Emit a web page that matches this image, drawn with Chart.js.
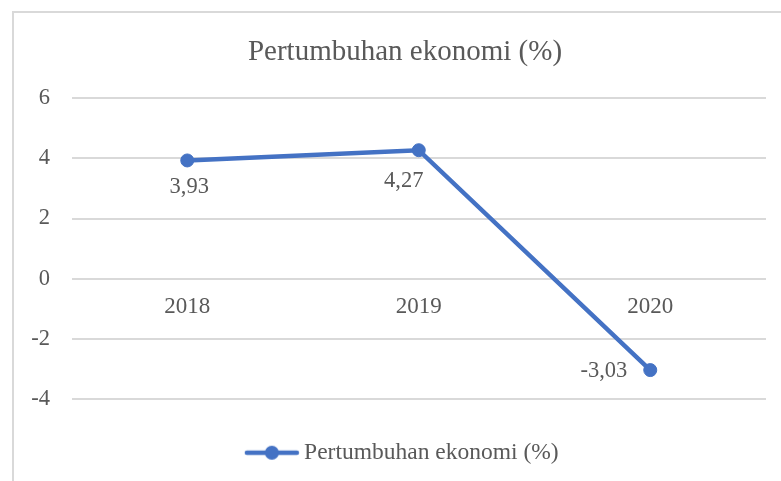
<!DOCTYPE html>
<html>
<head>
<meta charset="utf-8">
<script src="https://cdn.jsdelivr.net/npm/chart.js@4.4.1/dist/chart.umd.min.js"></script>
<style>
  html, body { margin: 0; padding: 0; background: #fff; overflow: hidden; }
  #box {
    position: absolute; left: 12px; top: 11px;
    width: 782px; height: 480px;
    border: 2px solid #d9d9d9;
    background: #fff;
  }
  canvas { display: block; }
</style>
</head>
<body>
<div id="box"><canvas id="myChart" width="782" height="480"></canvas></div>
<script>
var years = ["2018", "2019", "2020"];
var growth = [3.93, 4.27, -3.03];
var growthText = ["3,93", "4,27", "-3,03"];
var seriesName = "Pertumbuhan ekonomi (%)";

var blue = "#4472C4";
var grey = "#595959";
var serif = "'Liberation Serif', 'Times New Roman', serif";

// legend marker: line with a dot in the middle
var marker = document.createElement("canvas");
marker.width = 56;
marker.height = 16;
var mctx = marker.getContext("2d");
mctx.strokeStyle = blue;
mctx.lineWidth = 4.5;
mctx.lineCap = "round";
mctx.beginPath();
mctx.moveTo(3, 8);
mctx.lineTo(53, 8);
mctx.stroke();
mctx.fillStyle = blue;
mctx.beginPath();
mctx.arc(28, 8, 7, 0, Math.PI * 2);
mctx.fill();

// data labels: below, below (nudged left), left
var valueLabels = {
  id: "valueLabels",
  afterDatasetsDraw: function (chart) {
    var ctx = chart.ctx;
    var meta = chart.getDatasetMeta(0);
    ctx.save();
    ctx.font = "22.5px " + serif;
    ctx.fillStyle = grey;
    ctx.textBaseline = "middle";
    meta.data.forEach(function (pt, i) {
      var txt = growthText[i];
      if (i == 2) {
        ctx.textAlign = "right";
        ctx.fillText(txt, pt.x - 23, pt.y + 1);
      } else if (i == 1) {
        ctx.textAlign = "center";
        ctx.fillText(txt, pt.x - 15, pt.y + 31);
      } else {
        ctx.textAlign = "center";
        ctx.fillText(txt, pt.x + 2, pt.y + 27);
      }
    });
    ctx.restore();
  },
};

new Chart("myChart", {
  type: "line",
  data: {
    labels: years,
    datasets: [
      {
        label: seriesName,
        data: growth,
        borderColor: blue,
        backgroundColor: blue,
        borderWidth: 4.5,
        pointRadius: 6.5,
        pointHoverRadius: 6.5,
        pointBorderWidth: 1,
        pointStyle: "circle",
        tension: 0,
      },
    ],
  },
  options: {
    responsive: false,
    animation: false,
    events: [],
    layout: { padding: { left: 0, right: 0, top: 0, bottom: 18.5 } },
    scales: {
      x: {
        position: { y: 0 },
        offset: true,
        grid: { display: false, drawTicks: false },
        border: { display: false },
        ticks: {
          padding: 14,
          maxRotation: 0,
          color: grey,
          font: { family: serif, size: 23 },
        },
      },
      y: {
        min: -4,
        max: 6,
        afterFit: function (scale) {
          scale.width = 57.5;
        },
        grid: { color: "#d9d9d9", lineWidth: 2, drawTicks: false },
        border: { display: false },
        ticks: {
          stepSize: 2,
          padding: 21.5,
          color: grey,
          font: { family: serif, size: 22.5 },
        },
      },
      // empty right-hand axis, only keeps room on the right
      yRight: {
        position: "right",
        grid: { display: false, drawTicks: false },
        border: { display: false },
        ticks: { display: false },
        afterFit: function (scale) {
          scale.width = 30;
        },
      },
    },
    plugins: {
      title: {
        display: true,
        text: seriesName,
        color: grey,
        font: { family: serif, size: 29, weight: "normal" },
        padding: { top: 21.5, bottom: 28.8 },
      },
      legend: {
        position: "bottom",
        labels: {
          usePointStyle: true,
          pointStyleWidth: 41,
          padding: 41.7,
          color: grey,
          font: { family: serif, size: 23.5 },
          generateLabels: function (chart) {
            return [
              {
                text: seriesName,
                pointStyle: marker,
                fillStyle: blue,
                strokeStyle: blue,
                lineWidth: 0,
                fontColor: grey,
                datasetIndex: 0,
              },
            ];
          },
        },
      },
      tooltip: { enabled: false },
    },
  },
  plugins: [valueLabels],
});
</script>
</body>
</html>
